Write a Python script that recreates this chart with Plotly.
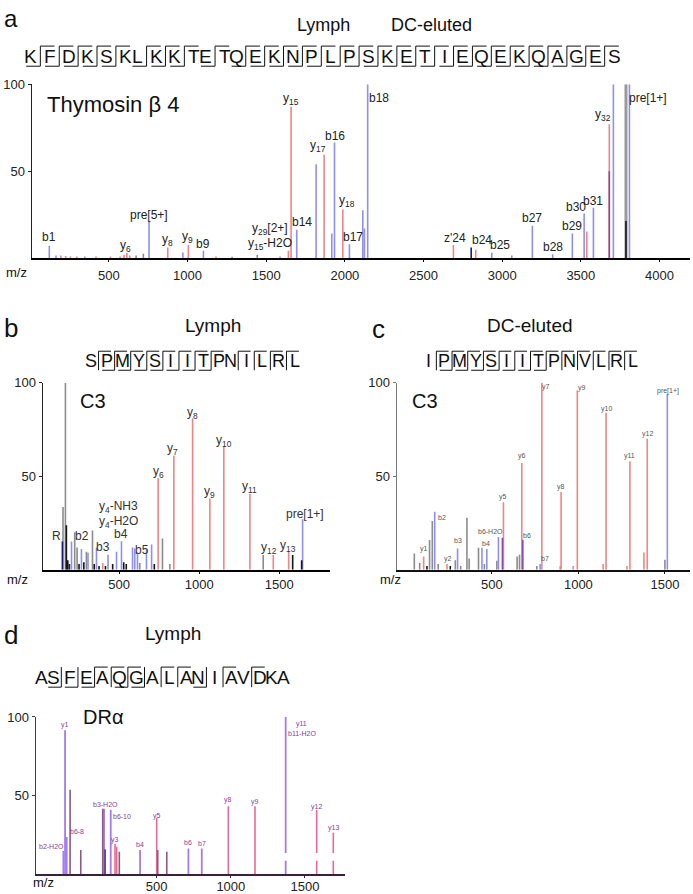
import plotly.graph_objects as go

# ============================ DATA ============================
# ---- panel a : Thymosin beta 4 (Lymph / DC-eluted) ----
a_seq = "KFDKSKLKKTETQEKNPLPSKETIEQEKQAGES"
a_bcuts = [1, 2, 3, 4, 5, 7, 8, 9, 11, 13, 14, 15, 16, 17, 18, 19, 20, 21, 22, 23, 24, 25, 26, 27, 28, 29, 30, 31, 32]
a_ycuts = [1, 2, 3, 4, 5, 7, 8, 9, 11, 13, 14, 15, 16, 17, 18, 19, 20, 21, 22, 23, 24, 25, 26, 27, 28, 29, 30, 31, 32]
a_mz = [121, 164, 194, 225, 255, 296, 347, 418, 510, 571, 596, 614, 632, 673, 719,
        755, 874, 970, 1005, 1101, 1181, 1283, 1443, 1588, 1641, 1658, 1694, 1817,
        1868, 1917, 1934, 1987, 2029, 2114, 2124, 2145, 2690, 2803, 2832, 2934, 3061,
        3192, 3321, 3446, 3521, 3538, 3580, 3681, 3681, 3707, 3787, 3787, 3809]
a_int = [7.1, 1.5, 1.5, 1.2, 1.0, 1.0, 1.0, 1.0, 1.0, 1.0, 2.0, 3.0, 1.5, 1.5, 2.5,
         21.4, 6.1, 3.2, 7.6, 4.2, 1.0, 0.8, 1.9, 1.0, 4.2, 87, 16.3, 54,
         59.4, 14.2, 66.5, 28, 8, 27.6, 17, 100, 7.6, 6.1, 4.8, 3.3, 1.5,
         18.6, 2.3, 14.2, 25.7, 15.3, 29, 77, 50, 100, 100, 21.4, 100]
a_ion = ["b", "b", "y", "y", "y", "y", "b", "y", "y", "y", "y", "y", "y", "u", "u",
         "b", "y", "b", "y", "b", "y", "u", "u", "b", "y", "y", "b", "b",
         "y", "b", "b", "y", "b", "b", "b", "b", "y", "n", "y", "b", "b",
         "b", "b", "b", "b", "y", "b", "y", "m", "b", "P", "k", "b"]
a_lab = ["b1", "y<sub>6</sub>", "pre[5+]", "y<sub>8</sub>", "y<sub>9</sub>", "b9",
         "y<sub>29</sub>[2+]", "y<sub>15</sub>-H2O", "y<sub>15</sub>", "b14", "y<sub>17</sub>",
         "b16", "y<sub>18</sub>", "b17", "b18", "z'24", "b24", "b25", "b27", "b28", "b29",
         "b30", "b31", "y<sub>32</sub>", "pre[1+]"]
a_lab_mz = [121, 608, 755, 874, 998, 1100, 1524, 1524, 1658, 1725, 1832, 1938, 2012,
            2050, 2214, 2701, 2870, 2983, 3192, 3321, 3446, 3470, 3580, 3643, 3930]
a_lab_int = [12, 7, 25, 10.5, 12, 8, 16.7, 8, 91.4, 20.5, 64.5, 70, 33, 12, 92,
             11.3, 10.5, 7.6, 23, 6.5, 18.6, 29.5, 33, 82, 92]
a_xticks = [500, 1000, 1500, 2000, 2500, 3000, 3500, 4000]

# ---- panel b : C3 (Lymph) ----
b_seq = "SPMYSIITPNILRL"
b_bcuts = [2, 3, 4, 5, 6, 7, 8]
b_ycuts = [1, 2, 3, 4, 5, 6, 7, 8, 10, 11, 12, 13]
b_mz = [146, 150, 165, 171, 180, 190, 203, 223, 238, 250, 265, 280, 296, 306, 334, 345,
        359, 375, 398, 415, 431, 460, 484, 515, 529, 545, 584, 598, 615, 629, 671, 703,
        720, 744, 771, 817, 842, 959, 1067, 1154, 1317, 1400, 1463, 1559, 1584, 1640, 1646]
b_int = [15, 33.5, 100, 23.8, 5, 3, 15, 20, 11.8, 3, 11, 4, 9.6, 9, 21, 3,
         11.8, 2, 3.5, 2, 7.9, 3, 9.6, 15.2, 4, 3, 11.8, 11.3, 9, 3.5, 10.6, 13.5,
         3, 49, 16.7, 3, 61, 81, 38, 66, 40.6, 7.8, 7.8, 9.6, 7.8, 5, 27]
b_ion = ["n", "u", "u", "k", "k", "n", "b", "u", "u", "k", "b", "k", "u", "b", "u", "k",
         "b", "k", "y", "k", "b", "k", "b", "b", "k", "k", "b", "b", "b", "u", "b", "b",
         "k", "y", "u", "u", "y", "y", "y", "y", "y", "u", "y", "y", "k", "k", "b"]
b_lab = ["R", "b2", "b3", "b4", "y<sub>4</sub>-NH3", "y<sub>4</sub>-H2O", "b5", "y<sub>6</sub>",
         "y<sub>7</sub>", "y<sub>8</sub>", "y<sub>9</sub>", "y<sub>10</sub>", "y<sub>11</sub>",
         "y<sub>12</sub>", "y<sub>13</sub>", "pre[1+]"]
b_lab_mz = [109, 269, 400, 515, 494, 494, 646, 744, 834, 959, 1063, 1154, 1313, 1438, 1556, 1661]
b_lab_int = [18, 18, 12.2, 19, 33.5, 25.5, 10.4, 52.5, 64.7, 84, 41.4, 69, 44, 11.5, 12.7, 30]
b_xticks = [500, 1000, 1500]

# ---- panel c : C3 (DC-eluted) ----
c_seq = "IPMYSIITPNVLRL"
c_bcuts = [2, 3, 4, 5, 6, 7, 8]
c_ycuts = [1, 2, 3, 4, 5, 6, 7, 8, 9, 10, 11, 12, 13]
c_mz = [52, 83, 106, 125, 140, 156, 170, 190, 241, 260, 289, 302, 320, 356, 369, 423,
        443, 457, 471, 529, 538, 561, 567, 646, 660, 673, 679, 760, 779, 789, 895, 900,
        970, 994, 1143, 1160, 1281, 1298, 1379, 1398, 1500, 1514]
c_int = [8.7, 3.5, 7, 2, 15.8, 26, 31, 3, 3, 2, 5, 11.3, 2, 27.7, 6, 11.7,
         11.7, 3, 11, 4.8, 17.5, 17, 36, 7, 8, 57, 16, 2, 3, 100, 2, 41.5,
         2, 96, 3, 84, 2, 58, 9.2, 70, 5.3, 94]
c_ion = ["u", "u", "y", "k", "u", "u", "b", "u", "y", "k", "u", "b", "u", "u", "u", "u",
         "b", "u", "b", "u", "b", "m", "y", "u", "u", "y", "m", "u", "b", "y", "y", "y",
         "y", "y", "y", "y", "y", "y", "y", "y", "u", "b"]
c_lab = ["y1", "y2", "b2", "b3", "b4", "b6-H2O", "y5", "y6", "b6", "b7", "y7", "y8", "y9",
         "y10", "y11", "y12", "pre[1+]"]
c_lab_mz = [106, 244, 212, 302, 465, 490, 567, 673, 702, 808, 813, 900, 1019, 1164, 1298, 1398, 1519]
c_lab_int = [11, 5.7, 28, 15.8, 14, 20.6, 39, 60.6, 18, 5.7, 97.5, 44, 97, 86, 60.6, 72.5, 95.6]
c_xticks = [500, 1000, 1500]

# ---- panel d : DR alpha (Lymph) ----
d_seq = "ASFEAQGALANIAVDKA"
d_bcuts = [2, 3, 4, 6, 7, 11]
d_ycuts = [4, 5, 6, 8, 9, 12, 14]
d_mz = [-129, -118, -107, -84, -12, 136, 145, 152, 190, 219, 230, 248, 388, 500, 507,
        568, 714, 804, 983, 1163, 1370, 1579, 1691]
d_int = [14.8, 91.5, 23.6, 53.7, 15.4, 41.7, 41.7, 15.8, 41, 19.4, 17.4, 14.3, 15.4, 35.8, 15.4,
         14.3, 16.4, 16.4, 43.2, 43.2, 100, 41, 26.3]
d_ion = ["b", "b", "b", "m", "m", "m", "b", "n", "b", "y", "y", "m", "b", "y", "m",
         "m", "b", "b", "y", "y", "b", "y", "y"]
d_lab = ["b2-H2O", "y1", "b6-8", "b3-H2O", "b6-10", "y3", "b4", "y5", "b6", "b7", "y8", "y9",
         "y11", "b11-H2O", "y12", "y13"]
d_lab_mz = [-208, -118, -39, 152, 264, 219, 388, 500, 714, 804, 983, 1163, 1478, 1478, 1579, 1691]
d_lab_int = [17.3, 94.8, 27.4, 44.6, 36.9, 21.5, 18.6, 37.2, 20, 19.4, 47.3, 45.9, 95.8, 89.5, 42.5, 29.5]
d_xticks = [500, 1000, 1500]

y_ticks = [50, 100]

# ============================ STYLE / LAYOUT ============================
W, H = 693, 894
def PX(p):
    return p / W
def PY(p):
    return 1 - p / H

FONT = "Liberation Sans, Arial, sans-serif"
NARROW = "Liberation Sans Narrow, Arial Narrow, Liberation Sans, Arial, sans-serif"

styles_abc = {
    "u": ("#8c8c8c", 1.6), "P": ("#9a9a9a", 3.0), "k": ("#151515", 1.6),
    "n": ("#1c1c78", 1.6), "b": ("#8f8ff2", 1.6), "y": ("#f28484", 1.6),
    "m": ("#8a4aa8", 1.6),
}
styles_d = {
    "m": ("#8c5a7e", 1.6), "n": ("#4a3a8a", 1.6),
    "b": ("#a27cec", 1.8), "y": ("#ea6a92", 1.6),
}
order = ["P", "u", "y", "b", "n", "m", "k"]

fig = go.Figure()

def sticks(mz, inten, ion, xa, ya, styles):
    for t in order:
        if t not in styles:
            continue
        xs, ys = [], []
        for m, v, k in zip(mz, inten, ion):
            if k == t:
                xs += [m, m, None]
                ys += [0, v, None]
        if xs:
            col, wd = styles[t]
            fig.add_trace(go.Scatter(x=xs, y=ys, mode="lines", xaxis=xa, yaxis=ya,
                                     line=dict(color=col, width=wd),
                                     hoverinfo="skip", showlegend=False))

sticks(a_mz, a_int, a_ion, "x", "y", styles_abc)
sticks(b_mz, b_int, b_ion, "x2", "y2", styles_abc)
sticks(c_mz, c_int, c_ion, "x3", "y3", styles_abc)
sticks(d_mz, d_int, d_ion, "x4", "y4", styles_d)

annotations = []
shapes = []

def labels(texts, mzs, ints, xr, yr, size, color, family):
    for t, m, v in zip(texts, mzs, ints):
        annotations.append(dict(text=t, x=m, y=v, xref=xr, yref=yr, showarrow=False,
                                xanchor="center", yanchor="middle",
                                font=dict(size=size, color=color, family=family)))

labels(a_lab, a_lab_mz, a_lab_int, "x", "y", 12, "#222", NARROW)
labels(b_lab, b_lab_mz, b_lab_int, "x2", "y2", 12, "#333", NARROW)
labels(c_lab, c_lab_mz, c_lab_int, "x3", "y3", 7, "#555", FONT)
labels(d_lab, d_lab_mz, d_lab_int, "x4", "y4", 7, "#8a3c96", FONT)

def text_px(t, x, y, size, family=FONT, color="#111", xanchor="center"):
    annotations.append(dict(text=t, x=PX(x), y=PY(y), xref="paper", yref="paper",
                            showarrow=False, xanchor=xanchor, yanchor="middle",
                            font=dict(size=size, color=color, family=family)))

# panel letters / headers
text_px("a", 11, 12, 24)
text_px("Lymph", 323, 18, 18)
text_px("DC-eluted", 431, 18, 18)
text_px("b", 11, 325, 26)
text_px("Lymph", 213, 322, 19)
text_px("c", 378, 326, 26)
text_px("DC-eluted", 530, 322, 19)
text_px("d", 11, 635, 26)
text_px("Lymph", 173, 634, 19)
text_px("Thymosin \u03b2 4", 113, 99, 22)
text_px("C3", 93, 398, 20)
text_px("C3", 425, 398, 20)
text_px("DR\u03b1", 103, 718, 20)
text_px("m/z", 16, 268, 13)
text_px("m/z", 17, 579, 13)
text_px("m/z", 390, 579, 13)
text_px("m/z", 43, 885, 13)

def draw_seq(seq, bcuts, ycuts, x0, x1, yc, fs, w):
    cuts = sorted(set(bcuts) | set(ycuts))
    n = len(seq)
    g = (x1 - x0 - n * w) / max(len(cuts), 1)
    x = x0
    centers, seps = [], {}
    for i, ch in enumerate(seq):
        centers.append(x + w / 2)
        x += w
        if (i + 1) in cuts:
            seps[i + 1] = x + g / 2
            x += g
    for cx, ch in zip(centers, seq):
        text_px(ch, cx, yc, fs, family=NARROW)
    top = yc - 0.55 * fs
    bot = yc + 0.52 * fs
    for k, sx in seps.items():
        ln = dict(color="#111", width=1)
        shapes.append(dict(type="line", xref="paper", yref="paper",
                           x0=PX(sx), x1=PX(sx), y0=PY(top), y1=PY(bot), line=ln))
        if k in ycuts:
            shapes.append(dict(type="line", xref="paper", yref="paper",
                               x0=PX(sx), x1=PX(sx + g / 2 + w * 0.9), y0=PY(top), y1=PY(top), line=ln))
        if k in bcuts:
            shapes.append(dict(type="line", xref="paper", yref="paper",
                               x0=PX(sx - g / 2 - w * 0.9), x1=PX(sx), y0=PY(bot), y1=PY(bot), line=ln))

draw_seq(a_seq, a_bcuts, a_ycuts, 25, 620, 50, 19, 11.8)
draw_seq(b_seq, b_bcuts, b_ycuts, 85, 300, 358, 18, 11)
draw_seq(c_seq, c_bcuts, c_ycuts, 423, 638, 358, 18, 11)
draw_seq(d_seq, d_bcuts, d_ycuts, 35, 290, 678, 19, 12)

# small white break across the right-hand peaks of panel d (as in the original)
shapes.append(dict(type="rect", xref="x4", yref="y4", x0=1300, x1=1760, y0=8.6, y1=13.4,
                   fillcolor="white", line=dict(width=0), layer="above"))

tickfont = dict(family=FONT, size=13, color="#222")

def xax(dom, rng, ticks, linecolor, lw=2, standoff=0):
    return dict(domain=[PX(dom[0]), PX(dom[1])], range=rng, showgrid=False, zeroline=False,
                showline=True, linecolor=linecolor, linewidth=lw, tickmode="array",
                tickvals=ticks, ticktext=[str(t) for t in ticks], ticks="outside",
                ticklen=2, tickcolor=linecolor, tickfont=tickfont, fixedrange=True,
                ticklabelstandoff=standoff)

def yax(dom, linecolor, anchor):
    return dict(domain=[PY(dom[0]), PY(dom[1])], range=[0, 100], showgrid=False,
                zeroline=False, showline=True, linecolor=linecolor, linewidth=1.5,
                tickmode="array", tickvals=y_ticks, ticktext=[str(t) for t in y_ticks],
                ticks="outside", ticklen=3, tickcolor=linecolor, tickfont=tickfont,
                anchor=anchor, fixedrange=True)

fig.update_layout(
    width=W, height=H, margin=dict(l=0, r=0, t=0, b=0),
    paper_bgcolor="white", plot_bgcolor="white", showlegend=False,
    xaxis=dict(**xax((32, 690), [11, 4194], a_xticks, "#000", standoff=2), anchor="y"),
    yaxis=yax((254, 78), "#222", "x"),
    xaxis2=dict(**xax((43, 330), [25, 1817], b_xticks, "#000"), anchor="y2"),
    yaxis2=yax((569, 380), "#222", "x2"),
    xaxis3=dict(**xax((397, 690), [-48, 1645], c_xticks, "#111"), anchor="y3"),
    yaxis3=yax((569, 380), "#777", "x3"),
    xaxis4=dict(**xax((36, 345), [-314, 1770], d_xticks, "#3a203a", standoff=-3), anchor="y4"),
    yaxis4=yax((877, 718), "#5a2a5a", "x4"),
    annotations=annotations, shapes=shapes,
)

fig.write_html("out.html", config={"displayModeBar": False, "staticPlot": True},
               post_script="document.body.style.margin='0px';document.body.style.overflow='hidden';")
